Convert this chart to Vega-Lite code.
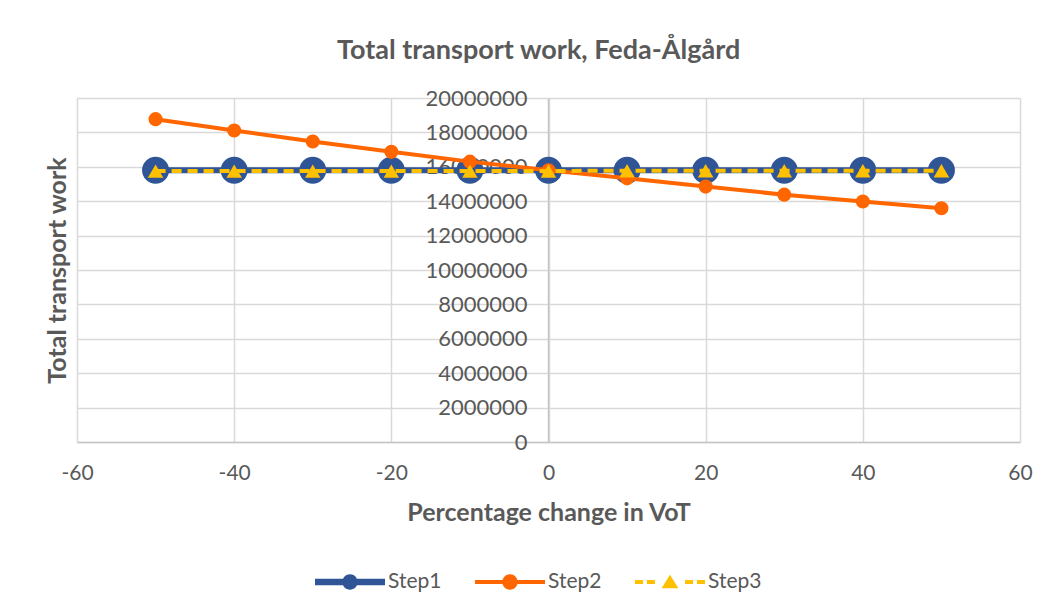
{
  "$schema": "https://vega.github.io/schema/vega-lite/v6.json",
  "autosize": "none",
  "width": 943,
  "height": 344,
  "padding": {"left": 77, "top": 98, "right": 29, "bottom": 174},
  "background": "white",
  "config": {
    "font": "Lato",
    "view": {"stroke": null},
    "axis": {"labelFont": "Lato", "titleFont": "Lato"}
  },
  "title": {
    "text": "Total transport work, Feda-Ålgård",
    "fontSize": 27,
    "fontWeight": "bold",
    "color": "#595959",
    "font": "Lato",
    "anchor": "middle",
    "frame": "bounds",
    "offset": 22
  },
  "data": {
    "values": [
      {"x": -50, "series": "Step1", "value": 15800000},
      {"x": -40, "series": "Step1", "value": 15800000},
      {"x": -30, "series": "Step1", "value": 15800000},
      {"x": -20, "series": "Step1", "value": 15800000},
      {"x": -10, "series": "Step1", "value": 15800000},
      {"x": 0, "series": "Step1", "value": 15800000},
      {"x": 10, "series": "Step1", "value": 15800000},
      {"x": 20, "series": "Step1", "value": 15800000},
      {"x": 30, "series": "Step1", "value": 15800000},
      {"x": 40, "series": "Step1", "value": 15800000},
      {"x": 50, "series": "Step1", "value": 15800000},
      {"x": -50, "series": "Step2", "value": 18770000},
      {"x": -40, "series": "Step2", "value": 18110000},
      {"x": -30, "series": "Step2", "value": 17470000},
      {"x": -20, "series": "Step2", "value": 16870000},
      {"x": -10, "series": "Step2", "value": 16300000},
      {"x": 0, "series": "Step2", "value": 15800000},
      {"x": 10, "series": "Step2", "value": 15330000},
      {"x": 20, "series": "Step2", "value": 14850000},
      {"x": 30, "series": "Step2", "value": 14380000},
      {"x": 40, "series": "Step2", "value": 13980000},
      {"x": 50, "series": "Step2", "value": 13590000},
      {"x": -50, "series": "Step3", "value": 15750000},
      {"x": -40, "series": "Step3", "value": 15750000},
      {"x": -30, "series": "Step3", "value": 15750000},
      {"x": -20, "series": "Step3", "value": 15750000},
      {"x": -10, "series": "Step3", "value": 15750000},
      {"x": 0, "series": "Step3", "value": 15760000},
      {"x": 10, "series": "Step3", "value": 15770000},
      {"x": 20, "series": "Step3", "value": 15770000},
      {"x": 30, "series": "Step3", "value": 15770000},
      {"x": 40, "series": "Step3", "value": 15770000},
      {"x": 50, "series": "Step3", "value": 15770000}
    ]
  },
  "encoding": {
    "x": {
      "field": "x",
      "type": "quantitative",
      "scale": {"domain": [-60, 60], "nice": false, "zero": false},
      "axis": {
        "values": [-60, -40, -20, 0, 20, 40, 60],
        "labelExpr": "'' + datum.value",
        "title": "Percentage change in VoT",
        "titleFontSize": 25,
        "titleFontWeight": "bold",
        "titleColor": "#595959",
        "titlePadding": 17,
        "labelFontSize": 21,
        "labelColor": "#595959",
        "labelPadding": 20,
        "ticks": false,
        "domainColor": "#c6c6c6",
        "domainWidth": 1.5,
        "grid": true,
        "gridColor": "#d9d9d9",
        "gridWidth": 1.5,
        "labelFlush": false
      }
    },
    "y": {
      "field": "value",
      "type": "quantitative",
      "scale": {"domain": [0, 20000000], "nice": false},
      "axis": {
        "orient": "left",
        "offset": -471,
        "values": [0, 2000000, 4000000, 6000000, 8000000, 10000000, 12000000, 14000000, 16000000, 18000000, 20000000],
        "labelExpr": "'' + datum.value",
        "labelFontSize": 22,
        "labelColor": "#595959",
        "labelPadding": 21,
        "ticks": false,
        "domainColor": "#c6c6c6",
        "domainWidth": 1.5,
        "grid": true,
        "gridColor": "#d9d9d9",
        "gridWidth": 1.5,
        "title": "Total transport work",
        "titleFontSize": 25,
        "titleFontWeight": "bold",
        "titleColor": "#595959",
        "titleX": -491,
        "titleY": 172,
        "titleAngle": -90,
        "titleAlign": "center",
        "titleBaseline": "middle"
      }
    }
  },
  "layer": [
    {
      "transform": [{"filter": "datum.series === 'Step1'"}],
      "mark": {"type": "line", "color": "#2F5597", "strokeWidth": 6}
    },
    {
      "transform": [{"filter": "datum.series === 'Step1'"}],
      "mark": {"type": "point", "shape": "circle", "filled": true, "size": 729, "color": "#2F5597", "opacity": 1}
    },
    {
      "transform": [{"filter": "datum.series === 'Step2'"}],
      "mark": {"type": "line", "color": "#FF6600", "strokeWidth": 4}
    },
    {
      "transform": [{"filter": "datum.series === 'Step2'"}],
      "mark": {"type": "point", "shape": "circle", "filled": true, "size": 200, "color": "#FF6600", "opacity": 1}
    },
    {
      "transform": [{"filter": "datum.series === 'Step3'"}],
      "mark": {"type": "line", "color": "#FFC000", "strokeWidth": 4, "strokeDash": [10, 6]}
    },
    {
      "transform": [{"filter": "datum.series === 'Step3'"}],
      "mark": {"type": "point", "shape": "triangle-up", "filled": true, "size": 240, "color": "#FFC000", "opacity": 1}
    },
    {
      "mark": {"type": "point", "filled": true, "opacity": 0},
      "encoding": {
        "color": {
          "field": "series",
          "type": "nominal",
          "scale": {"domain": ["Step1", "Step2", "Step3"], "range": ["#2F5597", "#FF6600", "#FFC000"]},
          "legend": {
            "title": null,
            "orient": "none",
            "legendX": 238,
            "legendY": 449,
            "direction": "horizontal",
            "symbolSize": 4900,
            "symbolStrokeWidth": 0,
            "symbolOpacity": 1,
            "labelFontSize": 21,
            "labelColor": "#595959",
            "labelFont": "Lato",
            "labelOffset": 3,
            "columnPadding": 33
          }
        },
        "shape": {
          "field": "series",
          "type": "nominal",
          "scale": {
            "domain": ["Step1", "Step2", "Step3"],
            "range": [
              "M-1,-0.09H-0.2V0.09H-1Z M0.2,-0.09H1V0.09H0.2Z M-0.22,0A0.22,0.22 0 1,1 0.22,0A0.22,0.22 0 1,1 -0.22,0Z",
              "M-1,-0.06H-0.2V0.06H-1Z M0.2,-0.06H1V0.06H0.2Z M-0.22,0A0.22,0.22 0 1,1 0.22,0A0.22,0.22 0 1,1 -0.22,0Z",
              "M-1,-0.06H-0.77V0.06H-1Z M-0.66,-0.06H-0.43V0.06H-0.66Z M0.43,-0.06H0.66V0.06H0.43Z M0.77,-0.06H1V0.06H0.77Z M0,-0.21L0.24,0.18L-0.24,0.18Z"
            ]
          },
          "legend": {
            "title": null,
            "orient": "none",
            "legendX": 238,
            "legendY": 449,
            "direction": "horizontal",
            "symbolSize": 4900,
            "symbolStrokeWidth": 0,
            "symbolOpacity": 1,
            "labelFontSize": 21,
            "labelColor": "#595959",
            "labelFont": "Lato",
            "labelOffset": 3,
            "columnPadding": 33
          }
        }
      }
    }
  ]
}
